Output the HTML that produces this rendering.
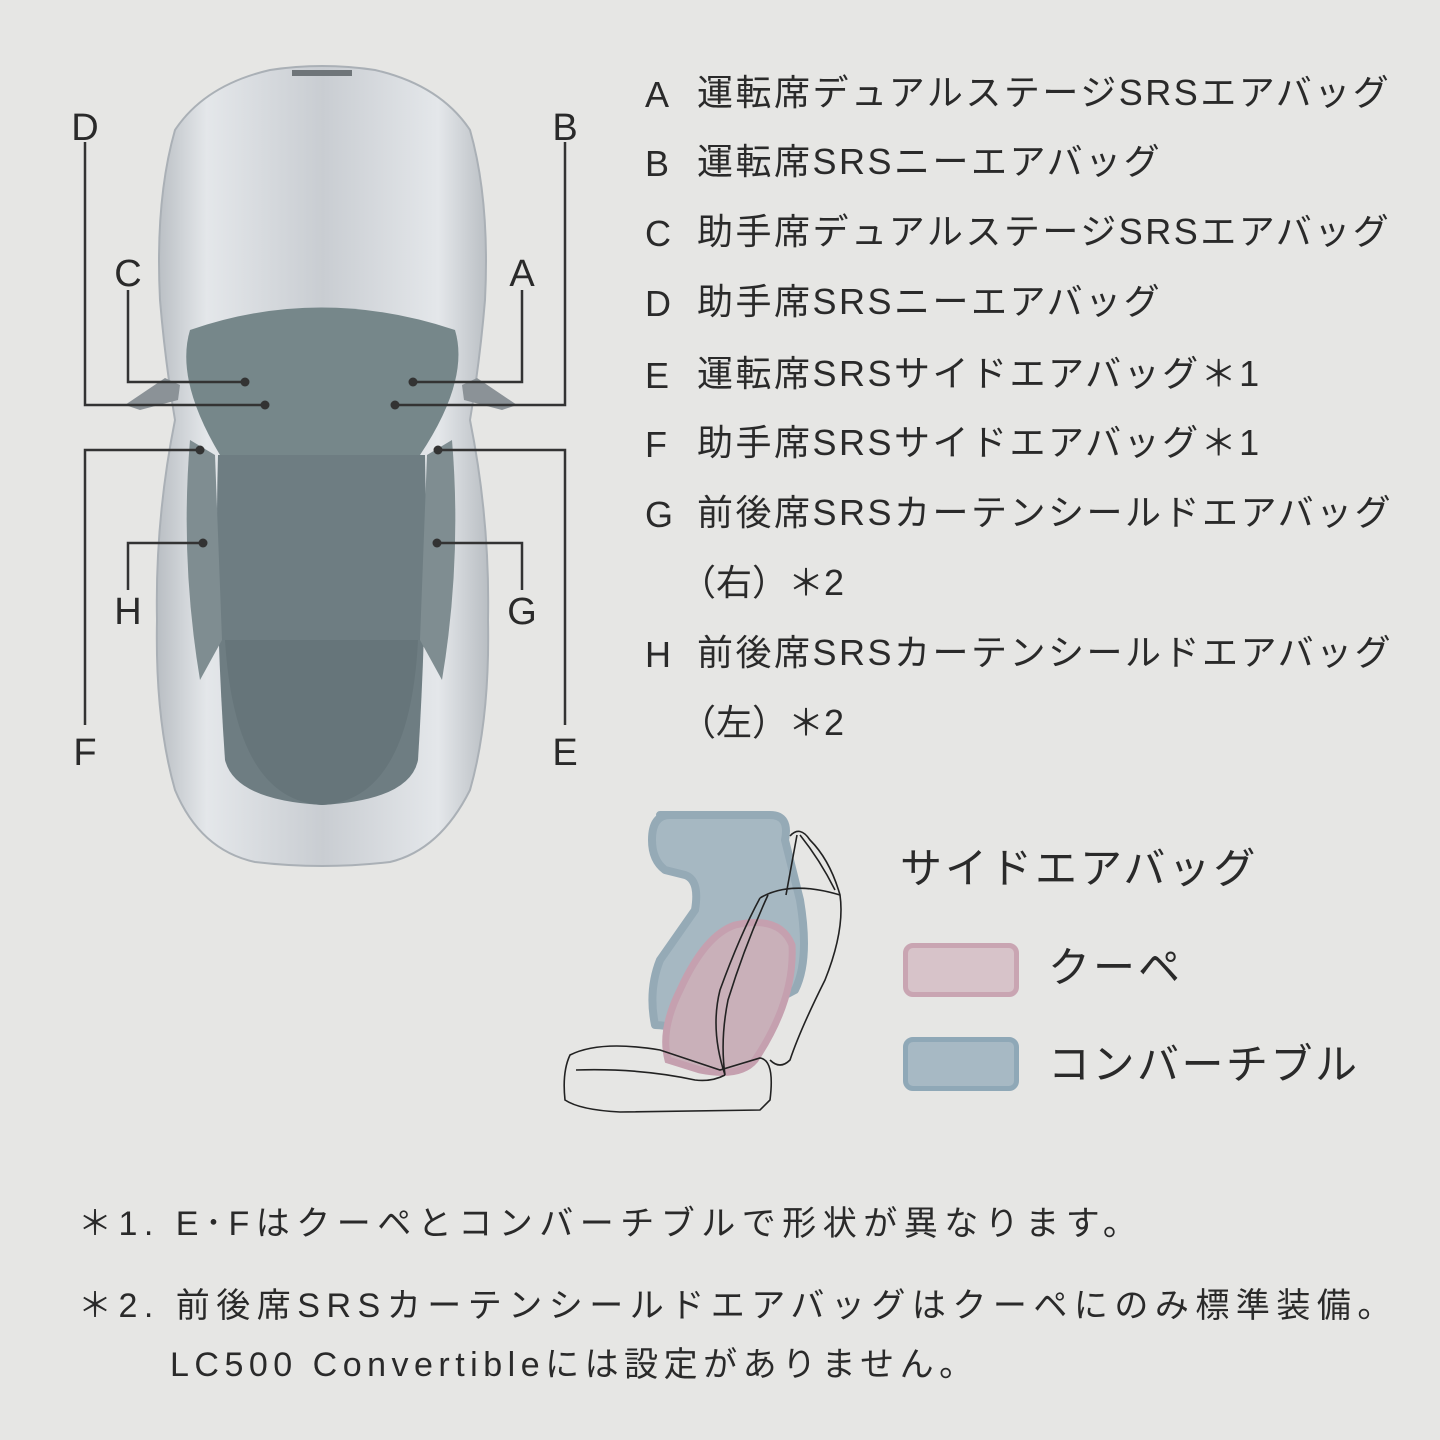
<!DOCTYPE html>
<html><head><meta charset="utf-8"><style>
body{margin:0;width:1440px;height:1440px;background:#e6e6e4;overflow:hidden;position:relative;font-family:"Liberation Sans","Noto Sans CJK JP",sans-serif;color:#2a2a2a}
.t{position:absolute;white-space:nowrap;line-height:1}
.r{font-size:36px}
.l{letter-spacing:2.5px}
.f{font-size:34px;letter-spacing:6.5px}
</style></head><body>
<svg width="1440" height="1440" style="position:absolute;left:0;top:0">
<defs>
<linearGradient id="body" x1="0" x2="1"><stop offset="0" stop-color="#b9bec3"/><stop offset=".15" stop-color="#e4e7ea"/><stop offset=".5" stop-color="#c9cdd2"/><stop offset=".85" stop-color="#e4e7ea"/><stop offset="1" stop-color="#b9bec3"/></linearGradient>
</defs>
<path d="M270 70 Q322 62 375 70 Q440 85 470 130 Q490 200 485 300 Q480 360 470 420 Q490 520 488 620 Q490 720 470 790 Q440 850 390 862 Q322 870 255 862 Q200 850 175 790 Q155 720 157 620 Q155 520 175 420 Q165 360 160 300 Q155 200 175 130 Q205 85 270 70Z" fill="url(#body)" stroke="#aab0b6" stroke-width="2"/>
<path d="M125 405 L165 378 L180 385 L178 400 L140 410Z" fill="#8b9297"/>
<path d="M517 405 L477 378 L462 385 L464 400 L502 410Z" fill="#8b9297"/>
<path d="M190 330 Q320 285 455 330 Q470 380 420 455 L220 455 Q175 380 190 330Z" fill="#76878a"/>
<path d="M218 455 L425 455 Q428 600 418 760 Q410 800 322 805 Q235 800 225 760 Q214 600 218 455Z" fill="#6e7d82"/>
<path d="M225 640 L418 640 Q410 800 322 805 Q235 800 225 640Z" fill="#66757a"/>
<path d="M190 440 L215 455 L222 640 L200 680 Q180 560 190 440Z" fill="#7f8d91"/>
<path d="M452 440 L427 455 L420 640 L442 680 Q462 560 452 440Z" fill="#7f8d91"/>
<rect x="292" y="70" width="60" height="6" fill="#6f7579"/>
<g stroke="#333" stroke-width="2.5" fill="none">
<polyline points="85,142 85,405 265,405"/>
<polyline points="565,142 565,405 395,405"/>
<polyline points="128,290 128,382 245,382"/>
<polyline points="522,290 522,382 413,382"/>
<polyline points="200,450 85,450 85,725"/>
<polyline points="438,450 565,450 565,725"/>
<polyline points="203,543 128,543 128,590"/>
<polyline points="437,543 522,543 522,590"/>
</g>
<g fill="#333">
<circle cx="265" cy="405" r="4.5"/><circle cx="395" cy="405" r="4.5"/><circle cx="245" cy="382" r="4.5"/><circle cx="413" cy="382" r="4.5"/>
<circle cx="200" cy="450" r="4.5"/><circle cx="438" cy="450" r="4.5"/><circle cx="203" cy="543" r="4.5"/><circle cx="437" cy="543" r="4.5"/>
</g>
<g font-family="Liberation Sans,sans-serif" font-size="38" fill="#2a2a2a" text-anchor="middle">
<text x="85" y="140">D</text><text x="565" y="140">B</text><text x="128" y="286">C</text><text x="522" y="286">A</text>
<text x="85" y="765">F</text><text x="565" y="765">E</text><text x="128" y="624">H</text><text x="522" y="624">G</text>
</g>
<path d="M660 815 L770 815 Q790 815 785 840 L800 900 Q810 960 795 990 L700 1040 Q675 1025 655 1025 Q648 990 660 960 L695 910 Q700 880 685 875 L665 870 Q652 860 652 840 Q652 815 670 815Z" fill="#a6b8c2" stroke="#95aab6" stroke-width="8" stroke-linejoin="round"/>
<path d="M735 925 Q780 915 792 945 Q795 1000 755 1060 Q740 1078 700 1070 L668 1060 Q660 1030 680 990 Q705 935 735 925Z" fill="#c9b0b9" stroke="#c5a0af" stroke-width="7"/>
<g fill="none" stroke="#222" stroke-width="1.6">
<path d="M790 836 Q800 825 810 840 Q830 860 840 895 Q845 930 825 980 Q800 1030 790 1060 Q780 1070 770 1060"/>
<path d="M797 835 L786 895 M800 835 Q820 860 835 890 M760 898 Q790 880 840 895"/>
<path d="M760 898 Q740 935 720 990 Q710 1030 725 1075 M768 895 Q745 945 728 1000 Q720 1040 725 1075"/>
<path d="M570 1055 Q600 1040 660 1050 L720 1070 L760 1058 Q775 1060 770 1100 L760 1110 L620 1112 Q580 1110 565 1100 Q562 1072 570 1055Z"/>
<path d="M576 1070 Q640 1068 695 1080 Q712 1082 725 1075"/>
</g>
</svg>
<div class="t r" style="left:645px;top:77px">A</div><div class="t r l" style="left:697px;top:75px">運転席デュアルステージSRSエアバッグ</div>
<div class="t r" style="left:645px;top:146px">B</div><div class="t r l" style="left:697px;top:144px">運転席SRSニーエアバッグ</div>
<div class="t r" style="left:645px;top:216px">C</div><div class="t r l" style="left:697px;top:214px">助手席デュアルステージSRSエアバッグ</div>
<div class="t r" style="left:645px;top:286px">D</div><div class="t r l" style="left:697px;top:284px">助手席SRSニーエアバッグ</div>
<div class="t r" style="left:645px;top:358px">E</div><div class="t r l" style="left:697px;top:356px">運転席SRSサイドエアバッグ＊1</div>
<div class="t r" style="left:645px;top:427px">F</div><div class="t r l" style="left:697px;top:425px">助手席SRSサイドエアバッグ＊1</div>
<div class="t r" style="left:645px;top:497px">G</div><div class="t r l" style="left:697px;top:495px">前後席SRSカーテンシールドエアバッグ</div>
<div class="t r" style="left:680px;top:565px">（右）＊2</div>
<div class="t r" style="left:645px;top:637px">H</div><div class="t r l" style="left:697px;top:635px">前後席SRSカーテンシールドエアバッグ</div>
<div class="t r" style="left:680px;top:705px">（左）＊2</div>
<div class="t" style="left:900px;top:848px;font-size:42px;letter-spacing:3px">サイドエアバッグ</div>
<div style="position:absolute;left:903px;top:943px;width:106px;height:44px;background:#d7c3c9;border:5px solid #c9a5b2;border-radius:10px"></div>
<div style="position:absolute;left:903px;top:1037px;width:106px;height:44px;background:#a7b9c4;border:5px solid #8fa8b7;border-radius:10px"></div>
<div class="t" style="left:1048px;top:947px;font-size:42px;letter-spacing:3px">クーペ</div>
<div class="t" style="left:1048px;top:1044px;font-size:42px;letter-spacing:2.5px">コンバーチブル</div>
<div class="t f" style="left:78px;top:1207px">＊1. E･Fはクーペとコンバーチブルで形状が異なります。</div>
<div class="t f" style="left:78px;top:1289px">＊2. 前後席SRSカーテンシールドエアバッグはクーペにのみ標準装備。</div>
<div class="t f" style="left:170px;top:1348px;letter-spacing:5.5px">LC500 Convertibleには設定がありません。</div>
</body></html>
